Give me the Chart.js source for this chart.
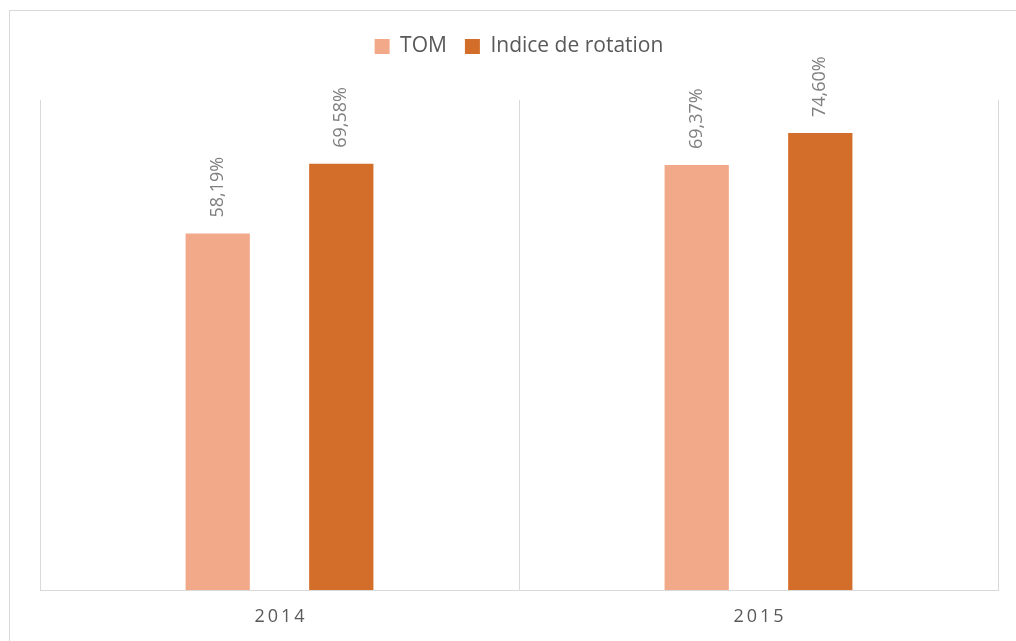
<!DOCTYPE html>
<html>
<head>
<meta charset="utf-8">
<script src="https://cdn.jsdelivr.net/npm/chart.js@4.4.1/dist/chart.umd.min.js"></script>
<style>
  html, body { margin: 0; padding: 0; background: #ffffff; overflow: hidden; }
  #wrap { position: relative; width: 1016px; height: 641px; overflow: hidden; }
  #frame { position: absolute; left: 9px; top: 10px; width: 1100px; height: 700px; border: 1px solid #d9d9d9; box-sizing: border-box; }
  canvas { position: absolute; left: 0; top: 0; }
</style>
</head>
<body>
<div id="wrap">
  <div id="frame"></div>
  <canvas id="c" width="1016" height="641"></canvas>
</div>
<script>
const categories = ['2014', '2015'];
const seriesNames = ['TOM', 'Indice de rotation'];
const tomValues = [58.19, 69.37];
const rotationValues = [69.58, 74.60];
const yMin = 0;
const yMax = 80;

const FONT = "'Open Sans', Lato, sans-serif";

const labelPlugin = {
  id: 'valueLabels',
  afterDatasetsDraw(chart) {
    const ctx = chart.ctx;
    ctx.save();
    ctx.font = "18px " + FONT;
    ctx.fillStyle = '#7f7f7f';
    ctx.textAlign = 'left';
    ctx.textBaseline = 'middle';
    chart.data.datasets.forEach((ds, di) => {
      const meta = chart.getDatasetMeta(di);
      meta.data.forEach((el, i) => {
        const txt = ds.data[i].toFixed(2).replace('.', ',') + '%';
        ctx.save();
        ctx.translate(el.x, el.y);
        ctx.rotate(-Math.PI / 2);
        ctx.fillText(txt, 16, 0);
        ctx.restore();
      });
    });
    ctx.restore();
  }
};

const xLabelPlugin = {
  id: 'xLabels',
  afterDraw(chart) {
    const ctx = chart.ctx;
    const xs = chart.scales.x;
    ctx.save();
    ctx.font = "18px " + FONT;
    ctx.fillStyle = '#595959';
    ctx.textAlign = 'center';
    ctx.textBaseline = 'middle';
    try { ctx.letterSpacing = '3px'; } catch (e) {}
    categories.forEach((c, i) => {
      ctx.fillText(c, xs.getPixelForTick(i) + 1.5, 617);
    });
    ctx.restore();
  }
};

new Chart(document.getElementById('c'), {
  type: 'bar',
  data: {
    labels: categories,
    datasets: [
      { label: seriesNames[0], data: tomValues, backgroundColor: '#F2A98A', borderWidth: 0,
        categoryPercentage: 0.516, barPercentage: 0.52 },
      { label: seriesNames[1], data: rotationValues, backgroundColor: '#D36E2A', borderWidth: 0,
        categoryPercentage: 0.516, barPercentage: 0.52 }
    ]
  },
  options: {
    responsive: false,
    animation: false,
    devicePixelRatio: 1,
    layout: { padding: { top: 18, left: 40, right: 18, bottom: 0 } },
    plugins: {
      legend: {
        position: 'top',
        labels: {
          boxWidth: 15, boxHeight: 15, padding: 18,
          color: '#595959',
          font: { size: 21, family: FONT }
        }
      },
      title: {
        display: true, text: '', weight: 500,
        font: { size: 10, lineHeight: 1 },
        padding: { top: 0, bottom: 23 }
      },
      tooltip: { enabled: false }
    },
    scales: {
      x: {
        offset: true,
        grid: { display: true, offset: true, color: '#d9d9d9', lineWidth: 1, drawTicks: false },
        border: { display: true, color: '#d9d9d9', width: 1 },
        ticks: { display: false },
        afterFit(scale) { scale.height = 51; }
      },
      y: {
        display: false,
        min: yMin, max: yMax
      }
    }
  },
  plugins: [labelPlugin, xLabelPlugin]
});
</script>
</body>
</html>
